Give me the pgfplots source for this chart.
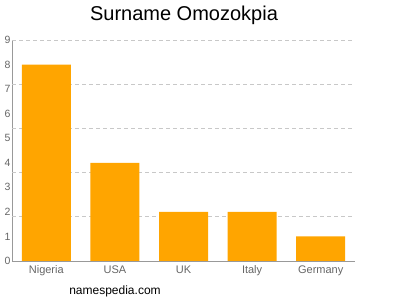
\documentclass[border=0pt]{standalone}
\usepackage{fontspec}
\setmainfont{Liberation Sans}
\usepackage{pgfplots}
\pgfplotsset{compat=1.18}
\definecolor{barorange}{HTML}{FFA500}
\definecolor{axisgray}{HTML}{999999}
\definecolor{ticktext}{HTML}{666666}
\definecolor{gridgray}{HTML}{C8C8C8}
\begin{document}
\begin{tikzpicture}[x=1bp,y=1bp]
\useasboundingbox (0,0) rectangle (400,300);
\begin{axis}[
  at={(12bp,39bp)}, anchor=south west,
  scale only axis, width=343bp, height=221bp,
  xmin=-0.5, xmax=4.5, ymin=0, ymax=9,
  axis lines*=left,
  axis line style={axisgray, line width=0.8pt},
  x axis line style={-}, y axis line style={-},
  xtick={0,1,2,3,4},
  xticklabels={Nigeria,USA,UK,Italy,Germany},
  ytick={0,1,...,9},
  major tick length=0pt,
  extra y ticks={1.8,3.6,5.4,7.2,9},
  extra y tick labels={},
  extra y tick style={grid=major, major grid style={gridgray, dash pattern=on 4bp off 3bp, line width=0.6pt}},
  tick label style={font=\fontsize{10.5bp}{12bp}\selectfont, text=ticktext},
  xticklabel style={font=\fontsize{11bp}{13bp}\selectfont, yshift=-1bp},
  yticklabel style={xshift=2bp},
  /pgf/number format/assume math mode=true,
  bar width=49bp,
  clip=false,
]
\addplot[ybar, fill=barorange, draw=none] coordinates {(0,8) (1,4) (2,2) (3,2) (4,1)};
\end{axis}
\node[anchor=center, font=\fontsize{20bp}{23bp}\selectfont] at (184,285) {Surname Omozokpia};
\node[anchor=center, font=\fontsize{12bp}{14bp}\selectfont] at (115,9) {namespedia.com};
\end{tikzpicture}
\end{document}
